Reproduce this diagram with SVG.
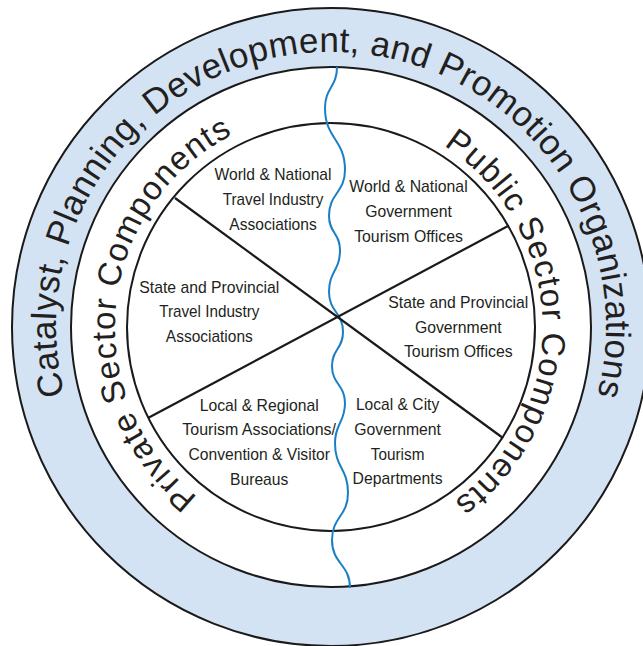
<svg xmlns="http://www.w3.org/2000/svg" width="643" height="646" viewBox="0 0 643 646">
<style>
.ring{stroke:#1a1a1a;stroke-width:2}
.div{stroke:#1a1a1a;stroke-width:2.2;fill:none}
.wave{stroke:#1b7fc4;stroke-width:2;fill:none}
.outer{font-family:"Liberation Sans",Arial,sans-serif;fill:#231f20;font-size:35px;letter-spacing:0.35px}
.sector{font-family:"Liberation Sans",Arial,sans-serif;fill:#231f20;font-size:33px;letter-spacing:1.2px}
.lbl{font-family:"Liberation Sans",Arial,sans-serif;font-size:17px;fill:#231f20;text-anchor:middle}
</style>
<defs>
<path id="outerPath" d="M331,602 A275,275 0 1 1 331,52 A275,275 0 1 1 331,602"/>
<path id="leftPath" d="M309.9,542 A216,216 0 0 1 352.1,112"/>
<path id="rightPath" d="M320.5,111.3 A216,216 0 0 1 341.5,542.7"/>
</defs>
<rect width="643" height="646" fill="#ffffff"/>
<g id="rings">
<circle class="ring" cx="331" cy="327" r="319" fill="#d3e3f3"/>
<circle class="ring" cx="331" cy="327" r="260" fill="#ffffff"/>
<circle class="ring" cx="331" cy="327" r="204" fill="none"/>
</g>
<g id="connectors">
<path class="wave" d="M337,67 C337,87.5 325,87.5 325,108 C325,139 345,139 345,170 C345,193 329,193 329,216 C329,233 340,233 340,250 C340,271 329,271 329,292 C329,312 343,312 343,332 C343,349 332,349 332,366 C332,384.5 345,384.5 345,403 C345,423 335,423 335,443 C335,468 348,468 348,493 C348,516.5 332,516.5 332,540 C332,564 350,564 350,588"/>
<line class="div" x1="175" y1="198" x2="503" y2="438"/>
<line class="div" x1="148" y1="418" x2="508" y2="226"/>
</g>
<g id="outer-label">
<text class="outer"><textPath href="#outerPath" startOffset="363.2">Catalyst,</textPath></text>
<text class="outer"><textPath href="#outerPath" startOffset="512.6">Planning,</textPath></text>
<text class="outer"><textPath href="#outerPath" startOffset="671.7">Development,</textPath></text>
<text class="outer"><textPath href="#outerPath" startOffset="901.9">and</textPath></text>
<text class="outer"><textPath href="#outerPath" startOffset="971.4">Promotion</textPath></text>
<text class="outer"><textPath href="#outerPath" startOffset="1144.1">Organizations</textPath></text>
</g>
<g id="private-label">
<text class="sector"><textPath href="#leftPath" startOffset="122.5">Private</textPath></text>
<text class="sector"><textPath href="#leftPath" startOffset="244">Sector</textPath></text>
<text class="sector"><textPath href="#leftPath" startOffset="356.9">Components</textPath></text>
</g>
<g id="public-label">
<text class="sector"><textPath href="#rightPath" startOffset="129.6">Public</textPath></text>
<text class="sector"><textPath href="#rightPath" startOffset="237">Sector</textPath></text>
<text class="sector"><textPath href="#rightPath" startOffset="349.9">Components</textPath></text>
</g>
<g id="world-travel">
<text class="lbl" x="273" y="180" textLength="117" lengthAdjust="spacingAndGlyphs">World &amp; National</text>
<text class="lbl" x="273" y="205" textLength="100.6" lengthAdjust="spacingAndGlyphs">Travel Industry</text>
<text class="lbl" x="273" y="229.5" textLength="87.4" lengthAdjust="spacingAndGlyphs">Associations</text>
</g>
<g id="world-gov">
<text class="lbl" x="408.5" y="191.7" textLength="118.3" lengthAdjust="spacingAndGlyphs">World &amp; National</text>
<text class="lbl" x="408.5" y="216.7" textLength="86.7" lengthAdjust="spacingAndGlyphs">Government</text>
<text class="lbl" x="408.5" y="241.7" textLength="108.7" lengthAdjust="spacingAndGlyphs">Tourism Offices</text>
</g>
<g id="state-travel">
<text class="lbl" x="209.3" y="292.7" textLength="140" lengthAdjust="spacingAndGlyphs">State and Provincial</text>
<text class="lbl" x="209.3" y="317.3" textLength="100.3" lengthAdjust="spacingAndGlyphs">Travel Industry</text>
<text class="lbl" x="209.3" y="341.7" textLength="87" lengthAdjust="spacingAndGlyphs">Associations</text>
</g>
<g id="state-gov">
<text class="lbl" x="458.3" y="307.7" textLength="140" lengthAdjust="spacingAndGlyphs">State and Provincial</text>
<text class="lbl" x="458.3" y="332.7" textLength="86.7" lengthAdjust="spacingAndGlyphs">Government</text>
<text class="lbl" x="458.3" y="357.3" textLength="108.7" lengthAdjust="spacingAndGlyphs">Tourism Offices</text>
</g>
<g id="local-travel">
<text class="lbl" x="259.2" y="410.7" textLength="119" lengthAdjust="spacingAndGlyphs">Local &amp; Regional</text>
<text class="lbl" x="259.2" y="435.3" textLength="153.7" lengthAdjust="spacingAndGlyphs">Tourism Associations/</text>
<text class="lbl" x="259.2" y="460" textLength="141.4" lengthAdjust="spacingAndGlyphs">Convention &amp; Visitor</text>
<text class="lbl" x="259.2" y="485" textLength="58.3" lengthAdjust="spacingAndGlyphs">Bureaus</text>
</g>
<g id="local-gov">
<text class="lbl" x="397.6" y="410" textLength="83.3" lengthAdjust="spacingAndGlyphs">Local &amp; City</text>
<text class="lbl" x="397.6" y="435" textLength="86.7" lengthAdjust="spacingAndGlyphs">Government</text>
<text class="lbl" x="397.6" y="460" textLength="53.6" lengthAdjust="spacingAndGlyphs">Tourism</text>
<text class="lbl" x="397.6" y="484.3" textLength="90" lengthAdjust="spacingAndGlyphs">Departments</text>
</g>
</svg>
